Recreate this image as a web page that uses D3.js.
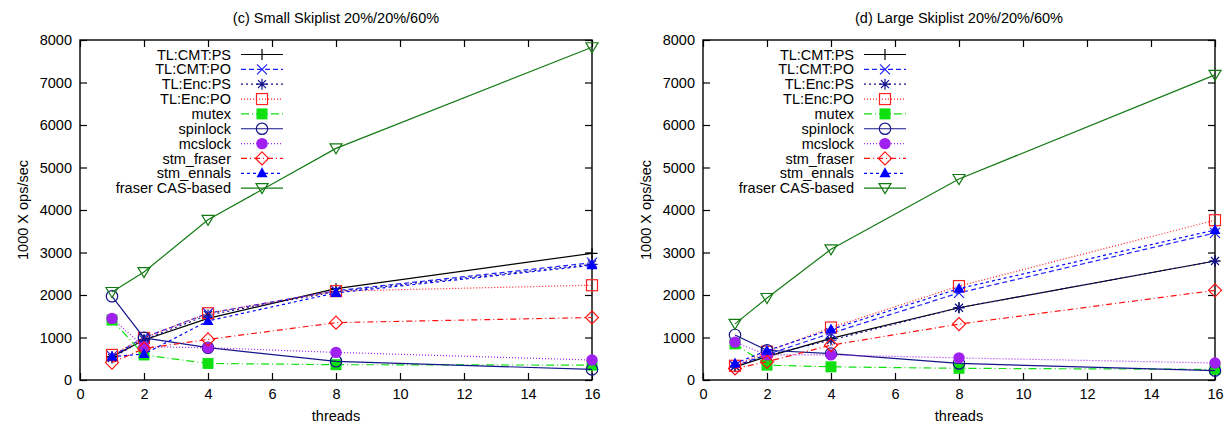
<!DOCTYPE html>
<html>
<head>
<meta charset="utf-8">
<script src="https://cdn.jsdelivr.net/npm/d3@7"></script>
<style>
  html, body { margin: 0; padding: 0; background: #fff; }
  svg { display: block; font-family: "Liberation Sans", Arial, sans-serif; }
</style>
</head>
<body>
<div id="chart"></div>
<script>
// thread counts on the x axis
const threads = [1, 2, 4, 8, 16];

// legend order, same order as the rows in the value tables below
const seriesNames = [
  "TL:CMT:PS", "TL:CMT:PO", "TL:Enc:PS", "TL:Enc:PO", "mutex",
  "spinlock", "mcslock", "stm_fraser", "stm_ennals", "fraser CAS-based"
];

// (c) Small Skiplist, 1000 X ops/sec, one row per series
const smallSkiplist = [
  [550, 940, 1450, 2150, 2980],
  [560, 1000, 1570, 2100, 2760],
  [520, 950, 1530, 2080, 2720],
  [590, 990, 1570, 2090, 2230],
  [1410, 590, 390, 360, 350],
  [1970, 990, 760, 440, 250],
  [1450, 780, 760, 650, 470],
  [410, 740, 955, 1350, 1470],
  [550, 610, 1390, 2050, 2700],
  [2070, 2540, 3770, 5450, 7830]
];

// (d) Large Skiplist
const largeSkiplist = [
  [310, 550, 980, 1700, 2800],
  [330, 600, 1100, 2050, 3460],
  [320, 580, 940, 1700, 2800],
  [335, 665, 1235, 2210, 3760],
  [850, 350, 310, 275, 250],
  [1060, 700, 620, 390, 220],
  [890, 590, 590, 520, 400],
  [270, 430, 820, 1315, 2110],
  [390, 690, 1190, 2150, 3530],
  [1320, 1930, 3075, 4730, 7180]
];

const xTicks = [0, 2, 4, 6, 8, 10, 12, 14, 16];
const yTicks = [0, 1000, 2000, 3000, 4000, 5000, 6000, 7000, 8000];

// gnuplot-ish line styles, by series index
const styles = [
  { color: "#000000", dash: null,       marker: "plus" },
  { color: "#2020ff", dash: "5,3",      marker: "cross" },
  { color: "#10108a", dash: "2,3",      marker: "star" },
  { color: "#ff2020", dash: "1,2",      marker: "square" },
  { color: "#10e010", dash: "8,3,1,3",  marker: "squareFilled" },
  { color: "#15158a", dash: null,       marker: "circle" },
  { color: "#a020f0", dash: "1,2",      marker: "circleFilled" },
  { color: "#ff1010", dash: "6,3,1,3",  marker: "diamond" },
  { color: "#0000ff", dash: "3,3",      marker: "triangleFilled" },
  { color: "#137a13", dash: null,       marker: "triangleDown" }
];

const width = 1227, height = 426;
const plotTop = 40, plotBottom = 380;
const fontSize = "14.5px";

const svg = d3.select("#chart").append("svg")
  .attr("width", width)
  .attr("height", height);

function marker(g, type, color, cx, cy) {
  const t = `translate(${cx},${cy})`;
  let el;
  if (type === "plus") {
    el = g.append("path").attr("d", "M-5.5,0H5.5M0,-5.5V5.5");
  } else if (type === "cross") {
    el = g.append("path").attr("d", "M-5,-5L5,5M-5,5L5,-5");
  } else if (type === "star") {
    el = g.append("path").attr("d", "M-5.5,0H5.5M0,-5.5V5.5M-4,-4L4,4M-4,4L4,-4");
  } else if (type === "square" || type === "squareFilled") {
    el = g.append("rect").attr("x", -5.5).attr("y", -5.5).attr("width", 11).attr("height", 11);
  } else if (type === "circle" || type === "circleFilled") {
    el = g.append("circle").attr("r", 5.7);
  } else if (type === "diamond") {
    el = g.append("path").attr("d", "M0,-6.5L6.5,0L0,6.5L-6.5,0Z");
  } else if (type === "triangleFilled") {
    el = g.append("path").attr("d", "M0,-6L5.5,4L-5.5,4Z");
  } else if (type === "triangleDown") {
    el = g.append("path").attr("d", "M-6,-4.5L6,-4.5L0,5.5Z");
  }
  el.attr("transform", t);
  if (type.endsWith("Filled")) {
    el.attr("fill", color).attr("stroke", "none");
  } else {
    el.attr("fill", "none").attr("stroke", color).attr("stroke-width", 1.2);
  }
}

function drawPanel(title, values, left, right) {
  const x = d3.scaleLinear().domain([0, 16]).range([left, right]);
  const y = d3.scaleLinear().domain([0, 8000]).range([plotBottom, plotTop]);
  const g = svg.append("g");

  // title
  g.append("text")
    .attr("x", (left + right) / 2)
    .attr("y", 23)
    .attr("text-anchor", "middle")
    .style("font-size", fontSize)
    .text(title);

  // axes: ticks point inward on all four sides
  const axisStyle = sel => {
    sel.selectAll("text").style("font-size", fontSize).attr("fill", "#000");
    sel.selectAll("line").attr("stroke", "#000").attr("stroke-width", 1.2);
    sel.select(".domain").remove();
  };
  g.append("g").attr("transform", `translate(0,${plotBottom})`)
    .call(d3.axisBottom(x).tickValues(xTicks).tickSize(-7).tickPadding(9).tickFormat(d3.format("d")))
    .call(axisStyle);
  g.append("g").attr("transform", `translate(0,${plotTop})`)
    .call(d3.axisTop(x).tickValues(xTicks).tickSize(-7).tickFormat(""))
    .call(axisStyle);
  g.append("g").attr("transform", `translate(${left},0)`)
    .call(d3.axisLeft(y).tickValues(yTicks).tickSize(-7).tickPadding(8).tickFormat(d3.format("d")))
    .call(axisStyle);
  g.append("g").attr("transform", `translate(${right},0)`)
    .call(d3.axisRight(y).tickValues(yTicks).tickSize(-7).tickFormat(""))
    .call(axisStyle);

  g.append("rect")
    .attr("x", left).attr("y", plotTop)
    .attr("width", right - left).attr("height", plotBottom - plotTop)
    .attr("fill", "none").attr("stroke", "#000").attr("stroke-width", 1.4);

  // axis titles
  g.append("text")
    .attr("x", (left + right) / 2)
    .attr("y", 421)
    .attr("text-anchor", "middle")
    .style("font-size", fontSize)
    .text("threads");
  g.append("text")
    .attr("transform", `translate(${left - 52},${(plotTop + plotBottom) / 2}) rotate(-90)`)
    .attr("text-anchor", "middle")
    .style("font-size", fontSize)
    .text("1000 X ops/sec");

  // series lines then markers
  const line = d3.line().x((d, i) => x(threads[i])).y(d => y(d));
  values.forEach((row, s) => {
    const st = styles[s];
    g.append("path")
      .attr("d", line(row))
      .attr("fill", "none")
      .attr("stroke", st.color)
      .attr("stroke-width", 1.2)
      .attr("stroke-dasharray", st.dash);
    row.forEach((v, i) => marker(g, st.marker, st.color, x(threads[i]), y(v)));
  });

  // legend, text right aligned, sample line to the right
  const keyText = left + 151;
  const rowY = i => 54.5 + i * 14.85;
  seriesNames.forEach((name, s) => {
    const st = styles[s];
    g.append("text")
      .attr("x", keyText)
      .attr("y", rowY(s))
      .attr("dy", "0.35em")
      .attr("text-anchor", "end")
      .style("font-size", fontSize)
      .text(name);
    g.append("line")
      .attr("x1", keyText + 10).attr("x2", keyText + 52)
      .attr("y1", rowY(s)).attr("y2", rowY(s))
      .attr("stroke", st.color)
      .attr("stroke-width", 1.2)
      .attr("stroke-dasharray", st.dash);
    marker(g, st.marker, st.color, keyText + 31, rowY(s));
  });
}

drawPanel("(c) Small Skiplist 20%/20%/60%", smallSkiplist, 80, 592);
drawPanel("(d) Large Skiplist 20%/20%/60%", largeSkiplist, 703, 1215);
</script>
</body>
</html>
